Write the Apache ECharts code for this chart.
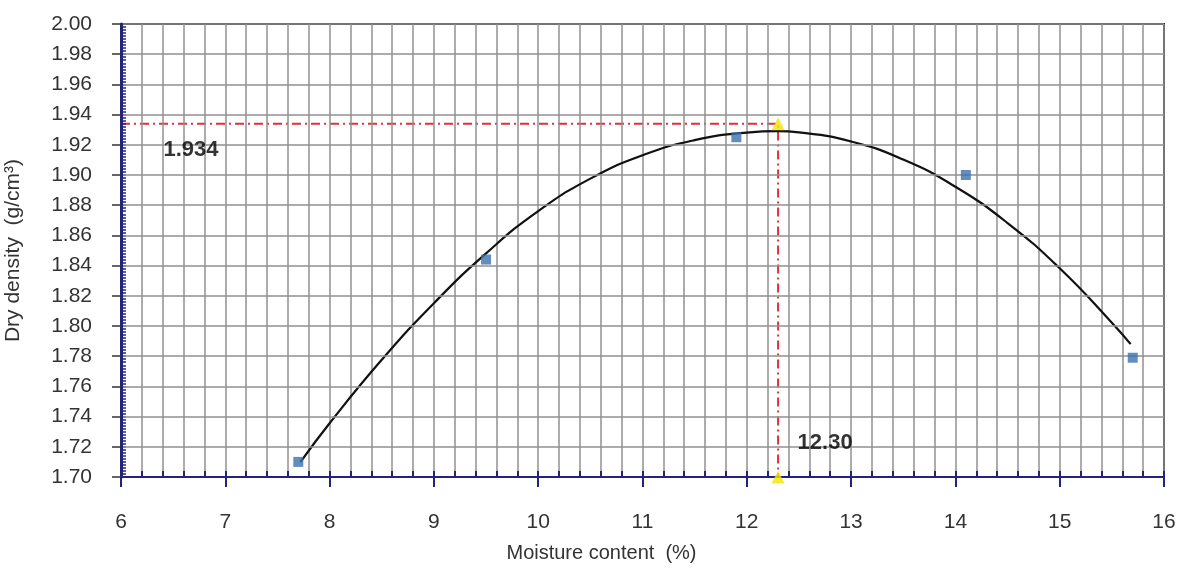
<!DOCTYPE html>
<html>
<head>
<meta charset="utf-8">
<script src="https://cdn.jsdelivr.net/npm/echarts@6/dist/echarts.min.js"></script>
<style>html,body{margin:0;padding:0;background:#fff;}#chart{width:1186px;height:572px;}</style>
</head>
<body>
<div id="chart"></div>
<script>
// ---- data ----
const moisture = [7.7, 9.5, 11.9, 14.1, 15.7];
const density = [1.710, 1.844, 1.925, 1.900, 1.779];
const curveX = [7.72, 8.0, 8.5, 9.0, 9.5, 10.0, 10.5, 11.0, 11.5, 12.0, 12.3, 12.5, 13.0, 13.5, 14.0, 14.5, 15.0, 15.5, 15.68];
const curveY = [1.7098, 1.7356, 1.7776, 1.8151, 1.8481, 1.8761, 1.8976, 1.9131, 1.9231, 1.9281, 1.929, 1.9282, 1.9222, 1.9102, 1.8922, 1.8682, 1.8382, 1.8022, 1.788];
const optX = 12.30;
const optY = 1.934;
const xMin = 6, xMax = 16, yMin = 1.70, yMax = 2.00;
const xTitle = 'Moisture content  (%)';
const yTitle = 'Dry density  (g/cm\u00B3)';

const NAVY = '#23237e';
const GRID = '#909090';
const FONT = "'Liberation Sans', Arial, sans-serif";

const chart = echarts.init(document.getElementById('chart'));
const option = {
  animation: false,
  backgroundColor: '#fff',
  grid: { left: 121, right: 22, top: 24, bottom: 95, show: true, borderColor: '#222', borderWidth: 2, containLabel: false, outerBoundsMode: 'none' },
  xAxis: [
    {
      type: 'value', min: xMin, max: xMax, interval: 1, position: 'bottom',
      name: xTitle, nameLocation: 'middle', nameGap: 66,
      nameTextStyle: { fontFamily: FONT, fontSize: 20, color: '#333', padding: [0, 82, 0, 0] },
      axisLine: { show: true, onZero: false, lineStyle: { color: NAVY, width: 2 } },
      axisTick: { show: true, inside: false, length: 10, lineStyle: { color: NAVY, width: 2 } },
      axisLabel: { margin: 35, fontFamily: FONT, fontSize: 21, color: '#333' },
      splitLine: { show: false }, z: 5
    },
    {
      type: 'value', min: xMin, max: xMax, interval: 0.2, position: 'bottom',
      axisLine: { show: false },
      axisTick: { show: true, inside: true, length: 6, lineStyle: { color: NAVY, width: 2 } },
      axisLabel: { show: false },
      splitLine: { show: true, lineStyle: { color: GRID, width: 1.5 } }, z: 4
    }
  ],
  yAxis: [
    {
      type: 'value', min: yMin, max: yMax, interval: 0.02, position: 'left',
      name: yTitle, nameLocation: 'middle', nameGap: 97,
      nameTextStyle: { fontFamily: FONT, fontSize: 21, color: '#333' },
      axisLine: { show: true, onZero: false, lineStyle: { color: NAVY, width: 3 } },
      axisTick: { show: true, inside: false, length: 9, lineStyle: { color: '#333', width: 1.5 } },
      axisLabel: { margin: 29, fontFamily: FONT, fontSize: 21, color: '#333', formatter: v => v.toFixed(2) },
      splitLine: { show: true, lineStyle: { color: GRID, width: 1.5 } }, z: 5
    },
    {
      type: 'value', min: yMin, max: yMax, interval: 0.002, position: 'left',
      axisLine: { show: false },
      axisTick: { show: true, inside: true, length: 5, lineStyle: { color: NAVY, width: 1.5 } },
      axisLabel: { show: false },
      splitLine: { show: false }, z: 4
    }
  ],
  series: [
    {
      type: 'line', xAxisIndex: 0, yAxisIndex: 0, z: 3,
      data: [[xMin, optY], [optX, optY], [optX, yMin]],
      symbol: 'none', silent: true,
      lineStyle: { color: '#e0303c', width: 2, type: [9, 4, 2, 4] }
    },
    {
      type: 'line', xAxisIndex: 0, yAxisIndex: 0, z: 4,
      data: curveX.map((x, i) => [x, curveY[i]]),
      smooth: 0.5, symbol: 'none',
      lineStyle: { color: '#111', width: 2.2 }
    },
    {
      type: 'scatter', xAxisIndex: 0, yAxisIndex: 0, z: 5,
      data: moisture.map((x, i) => [x, density[i]]),
      symbol: 'rect', symbolSize: 10,
      itemStyle: { color: '#3a72ad' }
    },
    {
      type: 'scatter', xAxisIndex: 0, yAxisIndex: 0, z: 6,
      data: [[optX, optY], [optX, yMin]],
      symbol: 'triangle', symbolSize: 13,
      itemStyle: { color: '#f4e500' }
    },
    {
      type: 'scatter', xAxisIndex: 0, yAxisIndex: 0, z: 7,
      data: [
        { value: [xMin, optY], label: { formatter: optY.toFixed(3), offset: [42, 26] } },
        { value: [optX, yMin], label: { formatter: optX.toFixed(2), offset: [19, -34] } }
      ],
      symbolSize: 1, itemStyle: { color: 'rgba(0,0,0,0)' },
      label: { show: true, position: 'right', distance: 0, fontFamily: FONT, fontWeight: 'bold', fontSize: 22, color: '#000' }
    }
  ]
};
chart.setOption(option);
</script>
</body>
</html>
